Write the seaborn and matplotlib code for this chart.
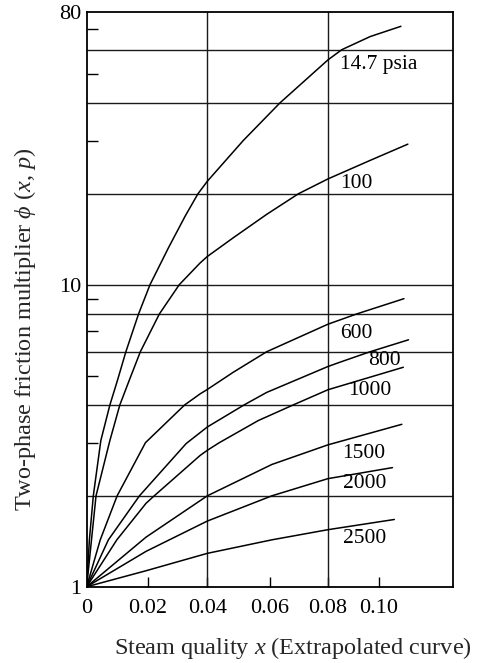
import numpy as np
import pandas as pd
import matplotlib
matplotlib.use("Agg")
import matplotlib.pyplot as plt
import seaborn as sns
from matplotlib.ticker import FixedLocator, NullFormatter

# ---------------- data ----------------
x_14_7 = [0, 0.0009, 0.0022, 0.0047, 0.0077, 0.0102, 0.0130, 0.0172, 0.0210, 0.0272, 0.0327, 0.0369,
          0.0400, 0.0519, 0.0641, 0.0800, 0.0846, 0.0940, 0.1042]
y_14_7 = [1, 1.43, 2, 3.05, 4, 4.82, 6, 8, 10, 13.3, 16.9, 20,
          22.0, 30.0, 40, 55.5, 60, 66.3, 71.7]

x_100 = [0, 0.0031, 0.0077, 0.0110, 0.0141, 0.0178, 0.0241, 0.0307, 0.0376, 0.0400, 0.0486, 0.0597,
         0.0702, 0.0800, 0.0940, 0.1065]
y_100 = [1, 2, 3.05, 4, 4.82, 6, 8, 10, 11.8, 12.4, 14.3, 17.1,
         20, 22.4, 25.8, 29.2]

x_600 = [0, 0.0045, 0.0101, 0.0195, 0.0325, 0.0376, 0.0400, 0.0486, 0.0597, 0.0800, 0.0895, 0.1052]
y_600 = [1, 1.43, 2, 3.0, 4, 4.35, 4.5, 5.13, 6, 7.40, 8, 8.99]

x_800 = [0, 0.0072, 0.0175, 0.0330, 0.0400, 0.0522, 0.0597, 0.0800, 0.0840, 0.0940, 0.1067]
y_800 = [1, 1.43, 2, 2.98, 3.38, 4, 4.40, 5.36, 5.54, 6, 6.57]

x_1000 = [0, 0.0100, 0.0197, 0.0224, 0.0376, 0.0400, 0.0440, 0.0569, 0.0685, 0.0800, 0.1050]
y_1000 = [1, 1.43, 1.89, 2, 2.72, 2.83, 3, 3.55, 4, 4.49, 5.33]

x_1500 = [0, 0.0197, 0.0400, 0.0614, 0.0800, 0.1045]
y_1500 = [1, 1.46, 2, 2.54, 2.95, 3.45]

x_2000 = [0, 0.0197, 0.0400, 0.0614, 0.0800, 0.1014]
y_2000 = [1, 1.31, 1.65, 2.0, 2.28, 2.48]

x_2500 = [0, 0.0197, 0.0400, 0.0614, 0.0800, 0.1020]
y_2500 = [1, 1.13, 1.29, 1.43, 1.545, 1.67]

pressures = ["14.7", "100", "600", "800", "1000", "1500", "2000", "2500"]
curve_labels = ["14.7 psia", "100", "600", "800", "1000", "1500", "2000", "2500"]
label_x = [0.0840, 0.0840, 0.0840, 0.0933, 0.0867, 0.0847, 0.0850, 0.0850]
label_y = [53.7, 21.7, 6.89, 5.61, 4.47, 2.77, 2.20, 1.45]

x_tick_pos = [0, 0.0202, 0.0400, 0.0607, 0.0800, 0.0968]
x_tick_labels = ["0", "0.02", "0.04", "0.06", "0.08", "0.10"]
y_tick_vals = [1, 10, 80]
y_tick_labels = ["1", "10", "80"]
y_minor_ticks = [3, 5, 7, 9, 30, 50, 70]
y_grid = [2, 4, 6, 8, 10, 20, 40, 60]
x_grid = [0.04, 0.08]

xs = [x_14_7, x_100, x_600, x_800, x_1000, x_1500, x_2000, x_2500]
ys = [y_14_7, y_100, y_600, y_800, y_1000, y_1500, y_2000, y_2500]
df = pd.concat(
    [pd.DataFrame({"x": x, "phi": y, "p": p}) for x, y, p in zip(xs, ys, pressures)],
    ignore_index=True,
)

# ---------------- style ----------------
sns.set_theme(style="white")
plt.rcParams["font.family"] = ["Liberation Serif", "DejaVu Serif"]
plt.rcParams["mathtext.fontset"] = "custom"
plt.rcParams["mathtext.rm"] = "Liberation Serif"
plt.rcParams["mathtext.it"] = "Liberation Serif:italic"

fig = plt.figure(figsize=(5.01, 6.63), dpi=100)
ax = fig.add_axes([0.173, 0.115, 0.732, 0.867])

for g in y_grid:
    ax.axhline(g, color="#1a1a1a", lw=1.0, zorder=1)
for g in x_grid:
    ax.axvline(g, color="#1a1a1a", lw=1.0, zorder=1)

sns.lineplot(data=df, x="x", y="phi", hue="p", palette={p: "black" for p in pressures},
             estimator=None, sort=False, legend=False, lw=1.1, ax=ax, zorder=3)
for ln in ax.get_lines():
    ln.set_solid_joinstyle("round")

ax.set_yscale("log")
ax.set_xlim(0, 0.1216)
ax.set_ylim(1, 80)

ax.set_yticks(y_tick_vals)
ax.set_yticklabels(y_tick_labels)
ax.yaxis.set_minor_locator(FixedLocator(y_minor_ticks))
ax.yaxis.set_minor_formatter(NullFormatter())
ax.set_xticks(x_tick_pos)
ax.set_xticklabels(x_tick_labels)

ax.tick_params(axis="y", which="major", left=True, length=0, pad=4, labelsize=16, colors="black")
ax.tick_params(axis="y", which="minor", left=True, direction="in", length=8, width=1.0, color="black")
ax.tick_params(axis="x", which="major", bottom=True, direction="in", length=7, width=1.0,
               pad=9, labelsize=16, colors="black")

for s in ax.spines.values():
    s.set_color("black")
    s.set_linewidth(1.3)

ax.set_xlabel("")
ax.set_ylabel("")

for t, lx, ly in zip(curve_labels, label_x, label_y):
    ax.text(lx, ly, t, ha="left", va="center", fontsize=15.5, color="black", zorder=4)

fig.text(293 / 501, 1 - 648 / 663, "Steam quality $x$ (Extrapolated curve)",
         ha="center", va="center", fontsize=17.5)
fig.text(25 / 501, 1 - 329 / 663, r"Two-phase friction multiplier $\phi$ ($x$, $p$)",
         ha="center", va="center", rotation=90, fontsize=17.5)

fig.savefig("out.png", dpi=100)
